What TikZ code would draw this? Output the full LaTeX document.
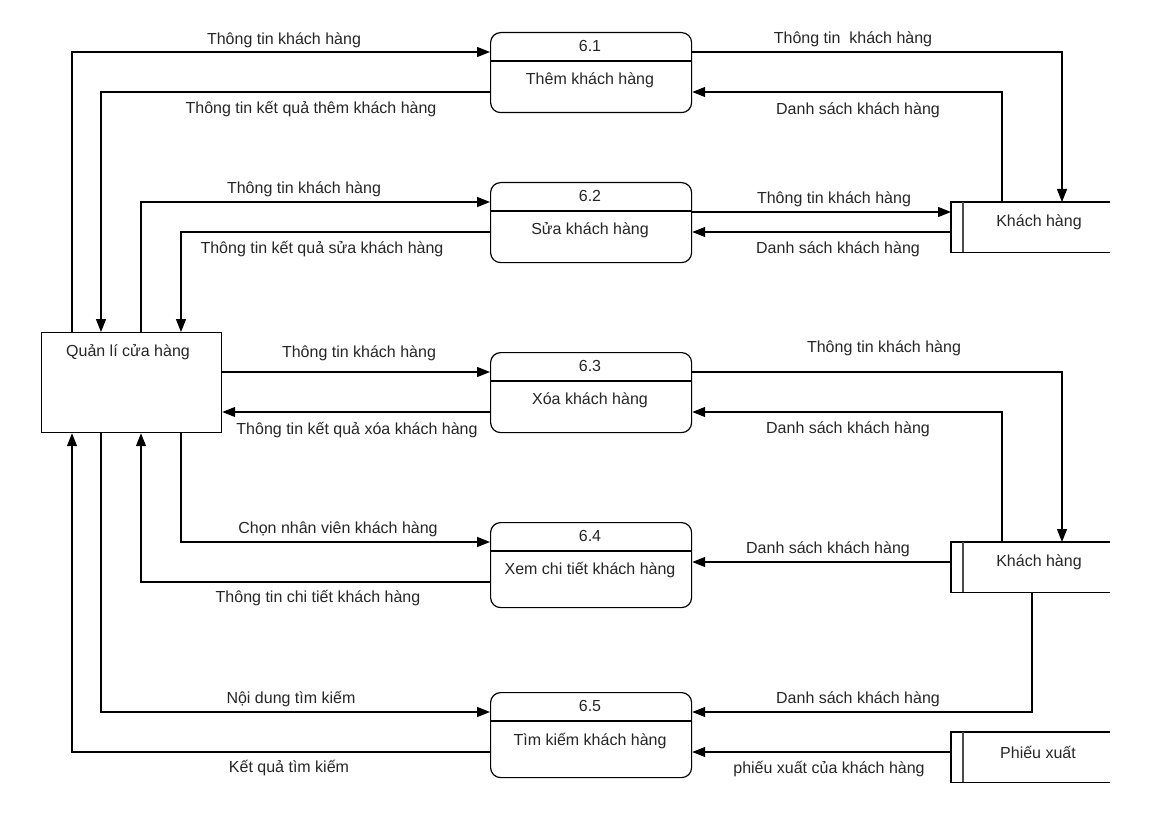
\documentclass[tikz,border=0pt]{standalone}
\usepackage{fontspec}
\setmainfont{Liberation Sans}
\usetikzlibrary{arrows.meta}
\begin{document}
\begin{tikzpicture}[x=1pt,y=-1pt,
  font=\fontsize{16}{19}\selectfont,
  every node/.style={text=black!85},
  proc/.style={draw, rounded corners=10pt, line width=1.2pt, minimum width=201pt, inner sep=0pt, anchor=north west},
  ent/.style={draw, line width=1.2pt, minimum width=180pt, minimum height=100pt, inner sep=0pt, anchor=north west},
  store/.style={minimum width=159pt, minimum height=50pt, inner sep=0pt, anchor=north west},
  sline/.style={line width=1.2pt},
  flow/.style={line width=1.2pt, -{Triangle[length=13pt,width=10pt]}},
  lbl/.style={inner sep=0pt}
]
\useasboundingbox[fill=white] (0,0) rectangle (1152,832);

% external entity
\node[ent] (q) at (41,332) {};
\node[lbl] (qt) at (128,352) {Quản lí cửa hàng};

% processes
\node[proc, minimum height=80pt] (p1) at (490,32) {};
\node[proc, minimum height=80pt] (p2) at (490,182) {};
\node[proc, minimum height=80pt] (p3) at (490,352) {};
\node[proc, minimum height=85pt] (p4) at (490,522) {};
\node[proc, minimum height=85pt] (p5) at (490,692) {};
\foreach \p in {p1,p2,p3,p4,p5}{
  \draw[sline] ([yshift=-29pt]\p.north west) -- ([yshift=-29pt]\p.north east);
}
\node[lbl] (p1n) at (590,46) {6.1};
\node[lbl] (p1t) at (590,80) {Thêm khách hàng};
\node[lbl] (p2n) at (590,196) {6.2};
\node[lbl] (p2t) at (590,230) {Sửa khách hàng};
\node[lbl] (p3n) at (590,366) {6.3};
\node[lbl] (p3t) at (590,400) {Xóa khách hàng};
\node[lbl] (p4n) at (590,536) {6.4};
\node[lbl] (p4t) at (590,570) {Xem chi tiết khách hàng};
\node[lbl] (p5n) at (590,706) {6.5};
\node[lbl] (p5t) at (590,741) {Tìm kiếm khách hàng};

% data stores
\node[store] (s1) at (951,202) {};
\node[store] (s2) at (951,542) {};
\node[store] (s3) at (951,732) {};
\foreach \s in {s1,s2,s3}{
  \draw[sline] (\s.north east) -- (\s.north west) -- (\s.south west) -- (\s.south east);
  \draw[sline, black!70] ([xshift=12pt]\s.north west) -- ([xshift=12pt]\s.south west);
}
\node[lbl] (s1t) at (1039,222) {Khách hàng};
\node[lbl] (s2t) at (1039,562) {Khách hàng};
\node[lbl] (s3t) at (1038,752) {Phiếu xuất};

% left side flows
\draw[flow] (q.north -| 72,0) |- (p1.west |- 0,52);
\draw[flow] (p1.west |- 0,92) -| (q.north -| 101,0);
\draw[flow] (q.north -| 141,0) |- (p2.west |- 0,202);
\draw[flow] (p2.west |- 0,232) -| (q.north -| 181,0);
\draw[flow] (q.east |- 0,372) -- (p3.west |- 0,372);
\draw[flow] (p3.west |- 0,412) -- (q.east |- 0,412);
\draw[flow] (q.south -| 181,0) |- (p4.west |- 0,542);
\draw[flow] (p4.west |- 0,582) -| (q.south -| 141,0);
\draw[flow] (q.south -| 101,0) |- (p5.west |- 0,712);
\draw[flow] (p5.west |- 0,752) -| (q.south -| 72,0);

% right side flows
\draw[flow] (p1.east |- 0,52) -| (s1.north -| 1062,0);
\draw[flow] (s1.north -| 1002,0) |- (p1.east |- 0,92);
\draw[flow] (p2.east |- 0,212) -- (s1.west |- 0,212);
\draw[flow] (s1.west |- 0,232) -- (p2.east |- 0,232);
\draw[flow] (p3.east |- 0,372) -| (s2.north -| 1062,0);
\draw[flow] (s2.north -| 1002,0) |- (p3.east |- 0,412);
\draw[flow] (s2.west |- 0,562) -- (p4.east |- 0,562);
\draw[flow] (s2.south -| 1032,0) |- (p5.east |- 0,712);
\draw[flow] (s3.west |- 0,752) -- (p5.east |- 0,752);

% labels left
\node[lbl] (l1) at (284,40) {Thông tin khách hàng};
\node[lbl] (l2) at (311,109) {Thông tin kết quả thêm khách hàng};
\node[lbl] (l3) at (304,189) {Thông tin khách hàng};
\node[lbl] (l4) at (322,249) {Thông tin kết quả sửa khách hàng};
\node[lbl] (l5) at (359,353) {Thông tin khách hàng};
\node[lbl] (l6) at (357,430) {Thông tin kết quả xóa khách hàng};
\node[lbl] (l7) at (338,529) {Chọn nhân viên khách hàng};
\node[lbl] (l8) at (318,598) {Thông tin chi tiết khách hàng};
\node[lbl] (l9) at (291,699) {Nội dung tìm kiếm};
\node[lbl] (l10) at (289,768) {Kết quả tìm kiếm};

% labels right
\node[lbl] (r1) at (853,39) {Thông tin\ \ khách hàng};
\node[lbl] (r2) at (858,110) {Danh sách khách hàng};
\node[lbl] (r3) at (834,199) {Thông tin khách hàng};
\node[lbl] (r4) at (838,249) {Danh sách khách hàng};
\node[lbl] (r5) at (884,348) {Thông tin khách hàng};
\node[lbl] (r6) at (848,429) {Danh sách khách hàng};
\node[lbl] (r7) at (828,549) {Danh sách khách hàng};
\node[lbl] (r8) at (858,699) {Danh sách khách hàng};
\node[lbl] (r9) at (829,769) {phiếu xuất của khách hàng};
\end{tikzpicture}
\end{document}
